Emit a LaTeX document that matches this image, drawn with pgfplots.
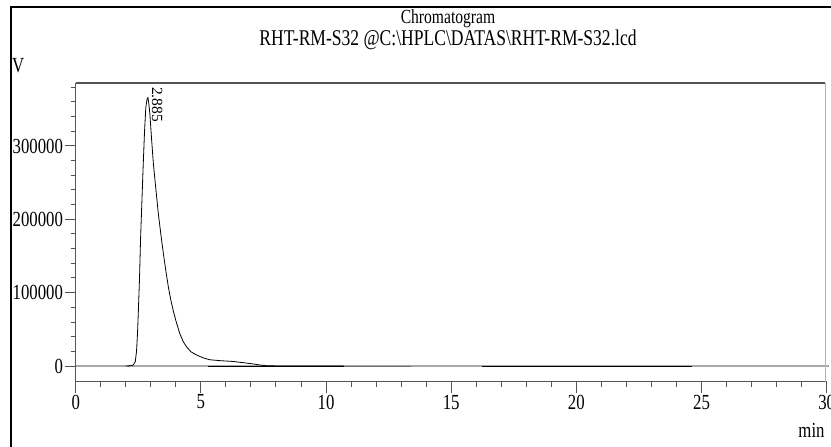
\documentclass[border=0pt]{standalone}
\usepackage{pgfplots}
\pgfplotsset{compat=1.18}
\usepackage{fontspec}
\setmainfont{Liberation Serif}[FakeStretch=0.78]
\newfontfamily\plainserif{Liberation Serif}
\definecolor{axgray}{HTML}{555555}
\definecolor{basegray}{HTML}{A8A8A8}
\definecolor{rgray}{HTML}{B4B4B4}
\definecolor{midgray}{HTML}{707070}
\begin{document}
\begin{tikzpicture}
\path[use as bounding box] (0,0) rectangle (831bp,447bp);
\begin{axis}[
  at={(75.7bp,65.3bp)}, anchor=south west,
  width=751bp, height=299bp, scale only axis,
  xmin=0, xmax=30, ymin=-21400, ymax=386300,
  axis line style={draw=none},
  xtick={0,5,...,30}, minor x tick num=4,
  ytick={0,100000,200000,300000},
  yticklabels={0,100000,200000,300000},
  scaled y ticks=false,
  minor ytick={20000,40000,60000,80000,120000,140000,160000,180000,220000,240000,260000,280000,320000,340000,360000,380000},
  tick align=outside, tick pos=left,
  major tick length=11bp, minor tick length=5bp,
  every tick/.style={axgray, line width=1bp},
  tick label style={font=\fontsize{21.5bp}{24bp}\selectfont},
  yticklabel style={inner sep=1.5bp},
  xticklabel style={inner sep=2bp},
  /pgf/number format/assume math mode=true,
  clip=false,
]
\addplot[basegray, line width=1.2bp] coordinates {(0,0) (30.1,0)};
\addplot[black, line width=1bp] coordinates {(5.3,0) (10.7,0)};
\addplot[midgray, line width=1bp] coordinates {(10.7,0) (13.4,0)};
\addplot[black, line width=1bp] coordinates {(16.25,0) (24.6,0)};
\addplot[black, line width=0.8bp] coordinates {
(2.00,0) (2.20,300) (2.30,1500) (2.38,6000) (2.43,20000) (2.47,45000)
(2.50,72000) (2.55,120000) (2.59,172000) (2.65,230000) (2.70,277000)
(2.75,320000) (2.80,352000) (2.85,364000) (2.885,366000) (2.92,358000)
(2.96,345000) (3.03,310000) (3.10,277000) (3.20,242000) (3.30,208000)
(3.40,180000) (3.50,154000) (3.60,130000) (3.70,108000) (3.80,90000)
(3.90,75000) (4.00,62000) (4.16,44000) (4.30,33000) (4.43,26000)
(4.60,19500) (4.83,15000) (5.10,11000) (5.36,8500) (5.80,7200)
(6.29,6200) (6.70,4500) (7.09,2800) (7.36,1400) (7.62,400) (8.00,100)
(8.50,0) (10.7,0)
};
\draw[axgray, line width=1.5bp] (rel axis cs:0,1) -- (rel axis cs:0,0) -- (rel axis cs:1,0);
\draw[axgray, line width=2bp] (rel axis cs:0,1) -- (rel axis cs:0.998,1);
\draw[rgray, line width=1bp] (rel axis cs:0.998,1) -- (rel axis cs:0.998,0);
\node[rotate=-90, anchor=west, inner sep=0, font=\plainserif\fontsize{15.5bp}{18bp}\selectfont] at (axis cs:3.25,380500) {2.885};
\end{axis}
\node[font=\fontsize{20bp}{24bp}\selectfont] at (448bp,428.5bp) {Chromatogram};
\node[font=\fontsize{22.5bp}{26bp}\selectfont] at (448bp,407bp) {RHT-RM-S32 @C:\textbackslash HPLC\textbackslash DATAS\textbackslash RHT-RM-S32.lcd};
\node[anchor=west, inner sep=0, font=\fontsize{21.5bp}{24bp}\selectfont] at (12bp,381bp) {V};
\node[font=\fontsize{21.5bp}{24bp}\selectfont] at (811.5bp,17bp) {min};
\draw[black, line width=2.5bp] (11bp,0) -- (11bp,440bp) -- (831bp,440bp);
\end{tikzpicture}
\end{document}
